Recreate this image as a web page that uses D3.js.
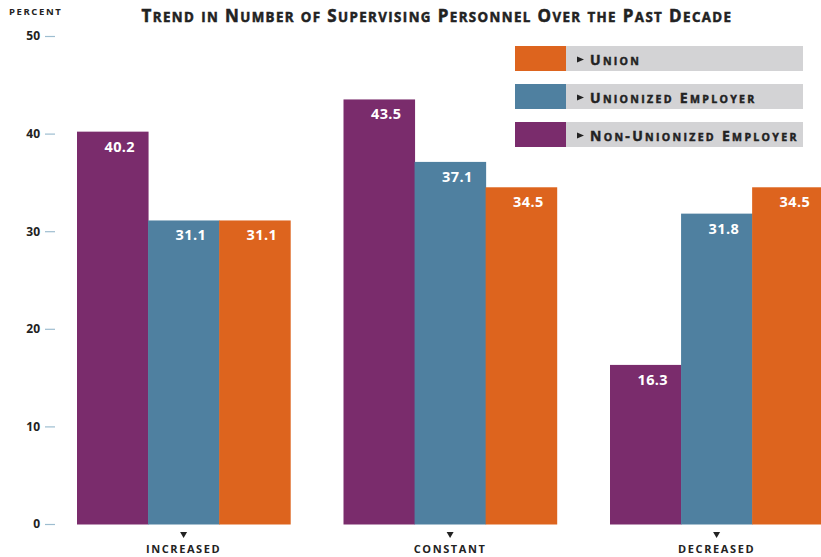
<!DOCTYPE html>
<html><head><meta charset="utf-8">
<script src="https://cdn.jsdelivr.net/npm/d3@7"></script>
<style>
body{margin:0;background:#fff;}
svg{display:block;font-family:"Open Sans",sans-serif;}
</style></head>
<body><svg id="c" width="821" height="557"></svg>
<script>
const categories = ["Increased", "Constant", "Decreased"];
const seriesNames = ["Non-Unionized Employer", "Unionized Employer", "Union"];
const nonUnionized = [40.2, 43.5, 16.3];
const unionizedEmployer = [31.1, 37.1, 31.8];
const union = [31.1, 34.5, 34.5];
const yTicks = [0, 10, 20, 30, 40, 50];
const legendOrder = ["Union", "Unionized Employer", "Non-Unionized Employer"];
const colors = {"Non-Unionized Employer":"#7a2c6c","Unionized Employer":"#4f80a0","Union":"#dd641e"};
const values = {"Non-Unionized Employer":nonUnionized,"Unionized Employer":unionizedEmployer,"Union":union};

const svg = d3.select("#c");
const y = d3.scaleLinear().domain([0,50]).range([524,36]);
const x0 = d3.scaleBand().domain(categories).range([77,823.2]).paddingInner(0.2).paddingOuter(0);
const x1 = d3.scaleBand().domain(seriesNames).range([0,x0.bandwidth()]).padding(0);

// manual small caps
function smallCaps(sel, str, big, small){
  const runs = [];
  for (const ch of str){
    const isLower = ch !== ch.toUpperCase();
    const sz = isLower ? small : big;
    if (runs.length && runs[runs.length-1].sz === sz) runs[runs.length-1].t += ch.toUpperCase();
    else runs.push({sz, t: ch.toUpperCase()});
  }
  runs.forEach(r => sel.append("tspan").style("font-size", r.sz+"px").text(r.t));
}

// title
const title = svg.append("text").attr("x",437).attr("y",22).attr("text-anchor","middle")
  .style("font-weight","bold").style("letter-spacing","1.4px").attr("fill","#222")
  .attr("stroke","#222").attr("stroke-width",0.5);
smallCaps(title, "Trend in Number of Supervising Personnel Over the Past Decade", 17, 13.3);

// percent label
svg.append("text").attr("x",9).attr("y",15).style("font-size","9.5px").style("font-weight","bold")
  .style("letter-spacing","1.6px").attr("fill","#222").text("PERCENT");

// y axis
const yAxis = d3.axisLeft(y).tickValues(yTicks).tickSize(10).tickPadding(5);
const ga = svg.append("g").attr("transform","translate(55,0)").call(yAxis);
ga.select(".domain").remove();
ga.selectAll(".tick line").attr("stroke","#9dbdd0").attr("stroke-width",1.2);
ga.selectAll(".tick text").attr("fill","#222").style("font-size","12px").style("font-weight","bold")
  .style("font-family","'Open Sans',sans-serif");

// bars
const groups = svg.append("g").selectAll("g").data(categories).join("g")
  .attr("transform",c=>`translate(${x0(c)},0)`);
const cells = groups.selectAll("g.b").data((c,i)=>seriesNames.map(s=>({s,v:values[s][i]}))).join("g").attr("class","b");
cells.append("rect").attr("x",d=>x1(d.s)).attr("y",d=>y(d.v)).attr("width",x1.bandwidth()+0.5)
  .attr("height",d=>y(0)-y(d.v)+0.5).attr("fill",d=>colors[d.s]);
cells.append("text").attr("x",d=>x1(d.s)+x1.bandwidth()-13).attr("y",d=>y(d.v)+20)
  .attr("text-anchor","end").attr("fill","#fff").style("font-size","14.5px").style("font-weight","bold")
  .style("letter-spacing","0.4px").text(d=>d.v.toFixed(1));

// category labels
const xa = svg.append("g").selectAll("g").data(categories).join("g")
  .attr("transform",c=>`translate(${x0(c)+x0.bandwidth()/2},0)`);
xa.append("path").attr("d","M-3.5,532 L3.5,532 L0,538 Z").attr("fill","#222");
xa.append("text").attr("y",553).attr("text-anchor","middle").style("font-size","11px")
  .style("font-weight","bold").style("letter-spacing","1.6px").attr("fill","#222")
  .text(c=>c.toUpperCase());

// legend
const legY = d3.scalePoint().domain(legendOrder).range([46,122]);
const lg = svg.append("g").selectAll("g").data(legendOrder).join("g")
  .attr("transform",d=>`translate(515,${legY(d)})`);
lg.append("rect").attr("x",51).attr("width",237).attr("height",25).attr("fill","#d3d3d5");
lg.append("rect").attr("width",51).attr("height",25).attr("fill",d=>colors[d]);
lg.append("path").attr("d","M62,10.5 L69,13.5 L62,16.5 Z").attr("fill","#222");
lg.each(function(d){
  const t = d3.select(this).append("text").attr("x",75).attr("y",18.5)
    .style("font-weight","bold").style("letter-spacing","2.3px").attr("fill","#222")
    .attr("stroke","#222").attr("stroke-width",0.45);
  smallCaps(t, d, 14, 10.6);
});
</script></body></html>
